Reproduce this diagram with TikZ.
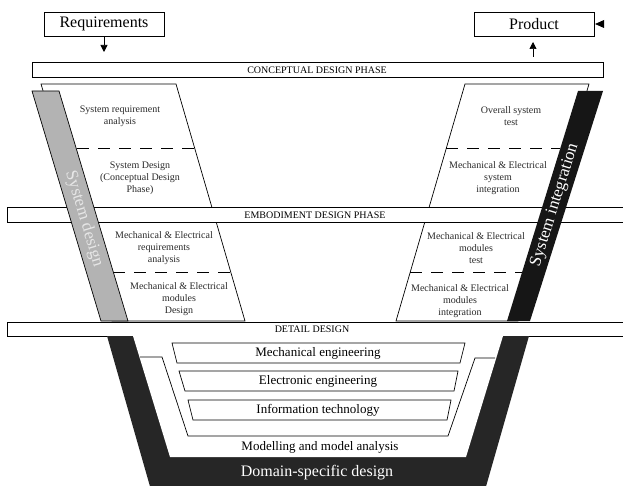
\documentclass[tikz,border=0pt]{standalone}
\usepackage{fontspec}
\setmainfont{Liberation Serif}
\usetikzlibrary{arrows.meta}
\definecolor{graybar}{HTML}{B3B3B3}
\definecolor{darkbar}{HTML}{161616}
\definecolor{domaincol}{HTML}{262626}
\definecolor{txt}{HTML}{2A2A2A}
\definecolor{lighttxt}{HTML}{E6E6E6}
\begin{document}
\begin{tikzpicture}[x=1pt,y=-1pt, line width=0.7pt,
  topbox/.style={draw, fill=white, minimum width=120pt, minimum height=24pt, inner sep=0pt, font=\fontsize{16}{18}\selectfont},
  phasebar/.style={draw, fill=white},
  phaselabel/.style={font=\fontsize{10}{12}\selectfont, inner sep=0pt},
  steplabel/.style={align=center, font=\fontsize{10}{12}\selectfont, text=txt, inner sep=0pt},
  divider/.style={dash pattern=on 12pt off 9pt},
  arrowtip/.style={-{Triangle[length=7pt,width=7pt]}},
  discbox/.style={draw, fill=white},
  disclabel/.style={font=\fontsize{13}{15}\selectfont, inner sep=0pt},
  barlabel/.style={font=\fontsize{17}{20}\selectfont, inner sep=0pt}
]
\useasboundingbox (0,0) rectangle (623,486);

% top boxes
\node[topbox] (req) at (104,24) {Requirements};
\node[topbox] (prod) at (534,24) {Product};
\coordinate (reqend) at (104,52);
\coordinate (prodstart) at (533,57);
\coordinate (prodend) at (533,42);
\draw[arrowtip] (req.south) -- (reqend);
\draw[arrowtip] (prodstart) -- (prodend);
\fill (595,24) -- (604,20) -- (604,28) -- cycle;

% white phase columns
\draw[fill=white] (41,84) -- (176,84) -- (245,321) -- (112,321) -- cycle;
\draw[fill=white] (465,84) -- (589,84) -- (518,321) -- (396,321) -- cycle;
\draw[divider] (77,148) -- (194,148);
\draw[divider] (113,272) -- (230,272);
\draw[divider] (446,148) -- (560,148);
\draw[divider] (410,272) -- (522,272);

\node[steplabel] (t1) at (120,116) {System requirement\\analysis};
\node[steplabel] (t2) at (140,178) {System Design\\(Conceptual Design\\Phase)};
\node[steplabel] (t3) at (164,248) {Mechanical \& Electrical\\requirements\\analysis};
\node[steplabel] (t4) at (179,299) {Mechanical \& Electrical\\modules\\Design};
\node[steplabel] (t5) at (511,116) {Overall system\\test};
\node[steplabel] (t6) at (498,178) {Mechanical \& Electrical\\system\\integration};
\node[steplabel] (t7) at (476,248) {Mechanical \& Electrical\\modules\\test};
\node[steplabel] (t8) at (460,301) {Mechanical \& Electrical\\modules\\integration};

% phase bars
\draw[phasebar] (32,62) rectangle (603,77);
\node[phaselabel] (p1) at (317,70) {CONCEPTUAL DESIGN PHASE};
\draw[phasebar] (7,207) rectangle (630,222);
\node[phaselabel] (p2) at (315,215) {EMBODIMENT DESIGN PHASE};
\draw[phasebar] (7,322) rectangle (630,336);
\node[phaselabel] (p3) at (312,329) {DETAIL DESIGN};

% slanted bars
\draw[fill=graybar] (32,91) -- (59,91) -- (128,321) -- (101,321) -- cycle;
\node[barlabel, text=lighttxt, rotate=-73.3] (sd) at (84,219) {System design};
\fill[darkbar] (578,91) -- (603,91) -- (530,321) -- (507,321) -- cycle;
\node[barlabel, text=white, rotate=72.6] (si) at (555,205) {System integration};

% domain-specific design
\fill[domaincol] (107,336) -- (529,336) -- (485,490) -- (151,490) -- cycle;
\fill[white] (133,336) -- (503,336) -- (466,457) -- (170,457) -- cycle;
\draw (140,357) -- (162,357) -- (188,436) -- (448,436) -- (475,358) -- (495,358);

\draw[discbox] (172,343) -- (465,343) -- (460,363) -- (177,363) -- cycle;
\node[disclabel] (me) at (318,353) {Mechanical engineering};
\draw[discbox] (179,371) -- (458,371) -- (454,391) -- (185,391) -- cycle;
\node[disclabel] (ee) at (318,381) {Electronic engineering};
\draw[discbox] (188,400) -- (451,400) -- (447,420) -- (193,420) -- cycle;
\node[disclabel] (it) at (318,410) {Information technology};

\node[disclabel] (mm) at (320,447) {Modelling and model analysis};
\node[font=\fontsize{16}{18}\selectfont, text=white, inner sep=0pt] (ds) at (317,473) {Domain-specific design};
\end{tikzpicture}
\end{document}
